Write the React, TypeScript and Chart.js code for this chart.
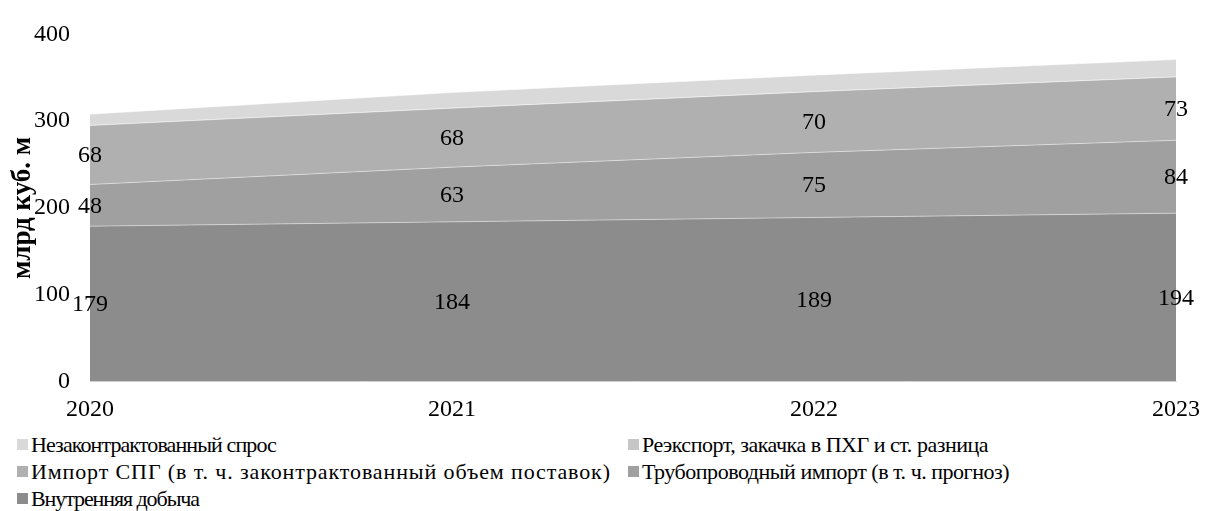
import React, { useEffect, useMemo, useRef } from 'react';
import { Chart, registerables } from 'chart.js';

Chart.register(...registerables);

const years = ['2020', '2021', '2022', '2023'];
const domesticProduction = [179, 184, 189, 194];
const pipelineImport = [48, 63, 75, 84];
const lngImport = [68, 68, 70, 73];
const reexportStorage = [0, 0, 0, 0];
const uncontractedDemand = [13, 18, 19, 20];
const yMin = 0;
const yMax = 400;
const yStep = 100;

const names = {
  domestic: 'Внутренняя добыча',
  pipeline: 'Трубопроводный импорт (в т. ч. прогноз)',
  lng: 'Импорт СПГ (в т. ч. законтрактованный объем поставок)',
  reexport: 'Реэкспорт, закачка в ПХГ и ст. разница',
  uncontracted: 'Незаконтрактованный спрос',
};
const yTitle = 'млрд куб. м';

const colors = {
  domestic: '#8c8c8c',
  pipeline: '#a0a0a0',
  lng: '#b0b0b0',
  reexport: '#c6c6c6',
  uncontracted: '#d9d9d9',
};

const FONT = '"Liberation Serif", "Times New Roman", serif';
const LEGEND_SIZE = 22;

// legend entries in display order, with the text width they occupy in the reference
const legendOrder: { name: string; color: string; width: number }[] = [
  { name: names.uncontracted, color: colors.uncontracted, width: 245 },
  { name: names.reexport, color: colors.reexport, width: 346 },
  { name: names.lng, color: colors.lng, width: 580 },
  { name: names.pipeline, color: colors.pipeline, width: 367 },
  { name: names.domestic, color: colors.domestic, width: 168 },
];

const labelPlugin = {
  id: 'layerLabels',
  afterDatasetsDraw(chart: any) {
    const ctx = chart.ctx;
    const zero = chart.scales.y.getPixelForValue(0);
    ctx.save();
    ctx.font = `24px ${FONT}`;
    ctx.fillStyle = '#000000';
    ctx.textAlign = 'center';
    ctx.textBaseline = 'middle';
    for (let d = 0; d < 3; d++) {
      const meta = chart.getDatasetMeta(d);
      const prev = d > 0 ? chart.getDatasetMeta(d - 1) : null;
      const values = chart.data.datasets[d].data;
      meta.data.forEach((pt: any, i: number) => {
        const base = prev ? prev.data[i].y : zero;
        const y = (pt.y + base) / 2 + 1;
        ctx.fillText(String(values[i]), pt.x, y);
      });
    }
    ctx.restore();
  },
};

export default function App() {
  const canvasRef = useRef<HTMLCanvasElement | null>(null);

  const spacings = useMemo(() => {
    const c = document.createElement('canvas').getContext('2d');
    return legendOrder.map((item) => {
      if (!c) return 0;
      c.font = `${LEGEND_SIZE}px ${FONT}`;
      const w = c.measureText(item.name).width;
      return (item.width - w) / item.name.length;
    });
  }, []);

  useEffect(() => {
    if (!canvasRef.current) return;
    const mk = (label: string, data: number[], color: string, fill: any) => ({
      label,
      data,
      backgroundColor: color,
      borderColor: 'rgba(255,255,255,0.45)',
      borderWidth: 1,
      pointRadius: 0,
      pointHoverRadius: 0,
      tension: 0,
      fill,
    });
    const chart = new Chart(canvasRef.current, {
      type: 'line',
      data: {
        labels: years,
        datasets: [
          mk(names.domestic, domesticProduction, colors.domestic, 'origin'),
          mk(names.pipeline, pipelineImport, colors.pipeline, '-1'),
          mk(names.lng, lngImport, colors.lng, '-1'),
          mk(names.reexport, reexportStorage, colors.reexport, '-1'),
          mk(names.uncontracted, uncontractedDemand, colors.uncontracted, '-1'),
        ],
      },
      options: {
        animation: false,
        responsive: false,
        layout: { padding: { top: 29.5, right: 26, bottom: 0, left: 0 } },
        plugins: {
          legend: { display: false },
          tooltip: { enabled: false },
          title: { display: false },
        },
        scales: {
          x: {
            offset: false,
            grid: { display: false, drawTicks: false },
            border: { display: true, color: '#d9d9d9', width: 1 },
            ticks: {
              color: '#000000',
              font: { family: FONT, size: 24 },
              padding: 14,
              maxRotation: 0,
            },
            afterFit: (scale: any) => {
              scale.height = 43.5;
            },
          },
          y: {
            stacked: true,
            min: yMin,
            max: yMax,
            grid: { display: false, drawTicks: false },
            border: { display: false },
            ticks: {
              stepSize: yStep,
              color: '#000000',
              font: { family: FONT, size: 24 },
              padding: 20,
            },
            title: {
              display: true,
              text: yTitle,
              color: '#000000',
              font: { family: FONT, size: 27, weight: 'bold' },
              padding: { top: 7, bottom: 0 },
            },
            afterFit: (scale: any) => {
              scale.width = 90;
            },
          },
        },
      },
      plugins: [labelPlugin],
    });
    return () => chart.destroy();
  }, []);

  return (
    <div style={{ position: 'absolute', left: 0, top: 0, width: 1214, height: 511, background: '#ffffff' }}>
      <canvas ref={canvasRef} width={1214} height={425} style={{ display: 'block' }} />
      <div
        style={{
          display: 'grid',
          gridTemplateColumns: '611px auto',
          paddingLeft: 17,
          marginTop: 6,
          fontFamily: FONT,
          fontSize: LEGEND_SIZE,
          lineHeight: '27px',
          color: '#000000',
        }}
      >
        {legendOrder.map((item, k) => (
          <div key={item.name} style={{ display: 'flex', alignItems: 'center', whiteSpace: 'nowrap' }}>
            <span
              style={{
                display: 'inline-block',
                width: 11,
                height: 11,
                background: item.color,
                marginRight: 3,
                flex: '0 0 auto',
              }}
            />
            <span style={{ letterSpacing: `${spacings[k].toFixed(2)}px` }}>{item.name}</span>
          </div>
        ))}
      </div>
    </div>
  );
}
